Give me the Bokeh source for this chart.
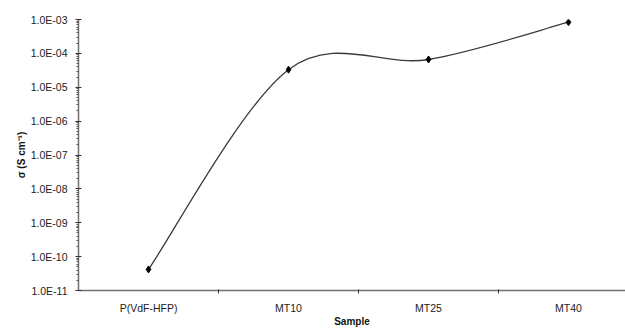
import numpy as np
from bokeh.plotting import figure
from bokeh.models import FixedTicker, CustomJSTickFormatter, Range1d, ColumnDataSource
from bokeh.embed import file_html
from bokeh.resources import INLINE

# ---- data ----
samples = ["P(VdF-HFP)", "MT10", "MT25", "MT40"]
sigma = [4.2e-11, 3.3e-05, 6.6e-05, 8.3e-04]
y_ticks = [1e-11, 1e-10, 1e-09, 1e-08, 1e-07, 1e-06, 1e-05, 1e-04, 1e-03]

xs = [i + 0.5 for i in range(len(samples))]
ly = [np.log10(v) for v in sigma]

# Excel-like smoothed line: cubic Bezier segments with control points from neighbours
n = len(xs)
seg = dict(x0=[], y0=[], x1=[], y1=[], cx0=[], cy0=[], cx1=[], cy1=[])
for i in range(n - 1):
    pm = max(i - 1, 0)
    pp = min(i + 2, n - 1)
    cx0 = xs[i] + (xs[i + 1] - xs[pm]) / 6.0
    cy0 = ly[i] + (ly[i + 1] - ly[pm]) / 6.0
    cx1 = xs[i + 1] - (xs[pp] - xs[i]) / 6.0
    cy1 = ly[i + 1] - (ly[pp] - ly[i]) / 6.0
    seg["x0"].append(xs[i]); seg["y0"].append(sigma[i])
    seg["x1"].append(xs[i + 1]); seg["y1"].append(sigma[i + 1])
    seg["cx0"].append(cx0); seg["cy0"].append(10 ** cy0)
    seg["cx1"].append(cx1); seg["cy1"].append(10 ** cy1)

p = figure(width=625, height=329, y_axis_type="log",
           x_range=Range1d(0, (625 - 78) / 140.0), y_range=Range1d(1e-11, 1e-3),
           output_backend="svg", toolbar_location=None,
           min_border_left=78, min_border_right=0, min_border_top=19, min_border_bottom=38)
p.outline_line_color = None
p.xgrid.visible = False
p.ygrid.visible = False
p.background_fill_color = "white"
p.border_fill_color = "white"

p.bezier(x0="x0", y0="y0", x1="x1", y1="y1", cx0="cx0", cy0="cy0", cx1="cx1", cy1="cy1",
         source=ColumnDataSource(seg), line_color="#3a3a3a", line_width=1.3)
p.scatter(xs, sigma, marker="diamond", size=7, fill_color="black", line_color="black")

FONT = "Liberation Sans"
axis_col = "#707070"

# x axis
xa = p.xaxis[0]
xa.ticker = FixedTicker(ticks=xs, minor_ticks=[1, 2, 3])
xa.formatter = CustomJSTickFormatter(args=dict(labels=samples),
                                     code="return labels[Math.floor(tick)];")
xa.major_tick_out = 0
xa.major_tick_in = 0
xa.minor_tick_out = 3
xa.minor_tick_in = 1
xa.minor_tick_line_color = "#333333"
xa.axis_line_color = axis_col
xa.axis_line_width = 1.5
xa.major_label_standoff = 8
xa.major_label_text_font = FONT
xa.major_label_text_font_size = "10.5px"
xa.major_label_text_color = "#222222"
xa.axis_label = "Sample"
xa.axis_label_text_font = FONT
xa.axis_label_text_font_size = "10px"
xa.axis_label_text_font_style = "bold"
xa.axis_label_text_color = "#111111"
xa.axis_label_standoff = -1

# y axis
ya = p.yaxis[0]
ya.ticker = FixedTicker(ticks=y_ticks,
                        minor_ticks=[k * 10.0 ** e for e in range(-11, -3) for k in range(2, 10)])
ya.formatter = CustomJSTickFormatter(code="""
const e = Math.round(Math.log10(tick));
const s = String(Math.abs(e)).padStart(2, '0');
return '1.0E' + (e < 0 ? '-' : '+') + s;
""")
ya.major_tick_out = 3
ya.major_tick_in = 3
ya.minor_tick_out = 2
ya.minor_tick_in = 0
ya.major_tick_line_color = "#333333"
ya.minor_tick_line_color = "#555555"
ya.axis_line_color = axis_col
ya.axis_line_width = 1.5
ya.major_label_standoff = 8
ya.major_label_text_font = FONT
ya.major_label_text_font_size = "10.5px"
ya.major_label_text_color = "#222222"
ya.axis_label = "σ (S cm⁻¹)"
ya.axis_label_text_font = FONT
ya.axis_label_text_font_size = "10px"
ya.axis_label_text_font_style = "bold"
ya.axis_label_text_color = "#111111"
ya.axis_label_standoff = 1

open("out.html", "w").write(file_html(p, INLINE))
